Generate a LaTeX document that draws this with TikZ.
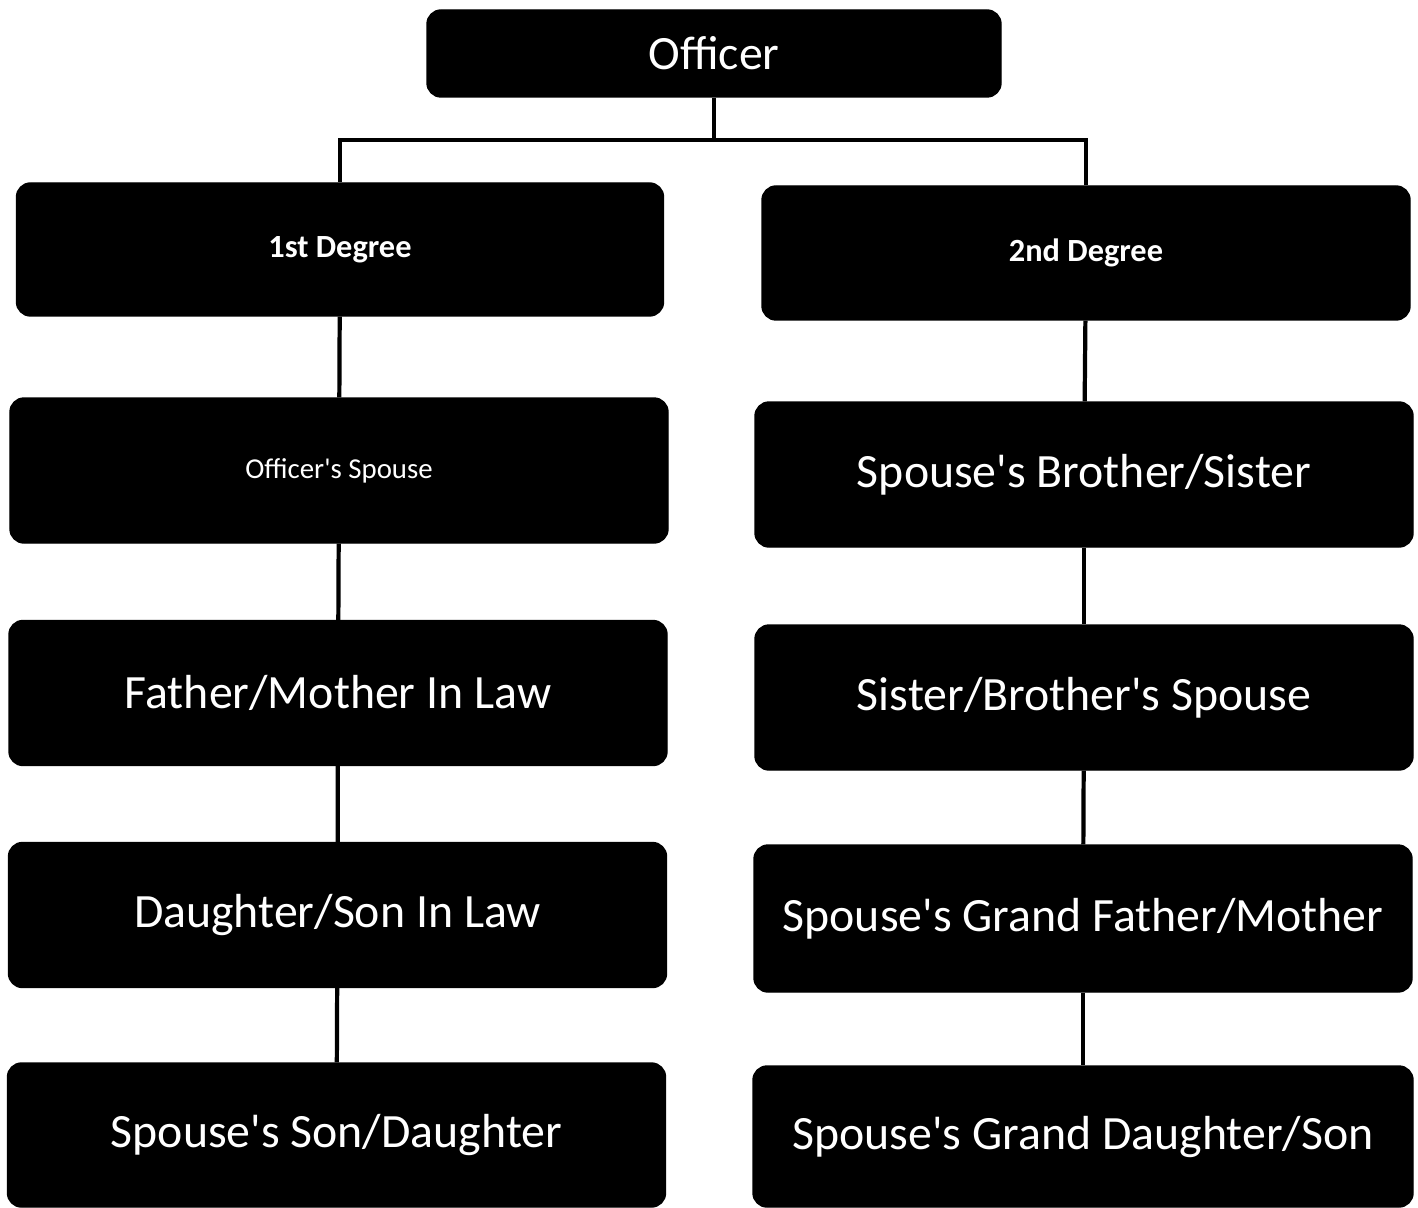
\documentclass[tikz,border=0pt]{standalone}
\usepackage{fontspec}
\setmainfont{Carlito}
\usetikzlibrary{positioning,calc}

\newcommand{\apos}{\textquotesingle}

\tikzset{
  box/.style={draw=black, fill=black, text=white, rounded corners=4pt,
    inner sep=0pt, minimum width=6.58cm, minimum height=1.45cm,
    font=\fontsize{13.6}{16}\selectfont},
  degbox/.style={box, minimum height=1.33cm, font=\bfseries\fontsize{9.2}{11}\selectfont},
  link/.style={line width=1.2pt}
}

\begin{document}
\begin{tikzpicture}
    \useasboundingbox (0,0) rectangle (14.18,-12.07);
    % Top
    \node[box, minimum width=5.74cm, minimum height=0.87cm] (officer) at (7.14,-0.535) {Officer};
    \coordinate (split) at (7.14,-1.40);
    % Degrees
    \node[degbox, minimum width=6.47cm] (deg1) at (3.40,-2.495) {1st Degree};
    \node[degbox, minimum width=6.48cm, minimum height=1.34cm] (deg2) at (10.86,-2.53) {2nd Degree};
    % Left column
    \node[box, font=\fontsize{8.2}{10}\selectfont] (lft1) at (3.39,-4.705) {Officer\apos s Spouse};
    \node[box] (lft2) at (3.38,-6.93) {Father/Mother In Law};
    \node[box] (lft3) at (3.375,-9.15) {Daughter/Son In Law};
    \node[box, minimum height=1.44cm] (lft4) at (3.365,-11.35) {Spouse\apos s Son/Daughter};
    % Right column
    \node[box] (rgt1) at (10.84,-4.745) {Spouse\apos s Brother/Sister};
    \node[box] (rgt2) at (10.84,-6.975) {Sister/Brother\apos s Spouse};
    \node[box, minimum height=1.47cm] (rgt3) at (10.83,-9.185) {Spouse\apos s Grand Father/Mother};
    \node[box, minimum width=6.6cm, minimum height=1.41cm] (rgt4) at (10.83,-11.365) {Spouse\apos s Grand Daughter/Son};
    % Links
    \draw[link] (officer.south) -- (split);
    \draw[link] (split) -| (deg1.north);
    \draw[link] (split) -| (deg2.north);
    \draw[link] (deg1) -- (lft1);
    \draw[link] (lft1) -- (lft2);
    \draw[link] (lft2) -- (lft3);
    \draw[link] (lft3) -- (lft4);
    \draw[link] (deg2) -- (rgt1);
    \draw[link] (rgt1) -- (rgt2);
    \draw[link] (rgt2) -- (rgt3);
    \draw[link] (rgt3) -- (rgt4);
\end{tikzpicture}
\end{document}
